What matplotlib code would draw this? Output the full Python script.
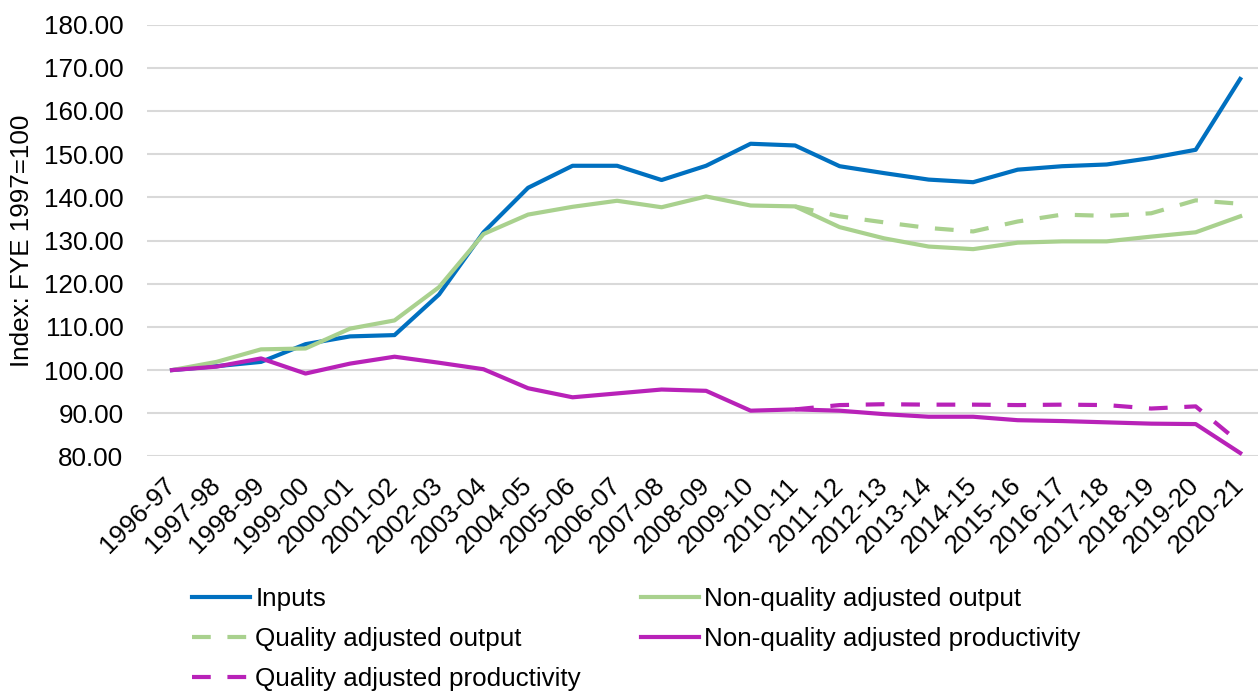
import numpy as np
import matplotlib
matplotlib.use('Agg')
import matplotlib.pyplot as plt

plt.rcParams['font.family'] = ['Liberation Sans', 'DejaVu Sans']
plt.rcParams['font.size'] = 18.75

years = ['1996-97', '1997-98', '1998-99', '1999-00', '2000-01', '2001-02',
         '2002-03', '2003-04', '2004-05', '2005-06', '2006-07', '2007-08',
         '2008-09', '2009-10', '2010-11', '2011-12', '2012-13', '2013-14',
         '2014-15', '2015-16', '2016-17', '2017-18', '2018-19', '2019-20',
         '2020-21']

inputs = [100.0, 100.9, 101.9, 106.0, 107.8, 108.1, 117.5, 131.9, 142.2,
          147.3, 147.3, 144.0, 147.3, 152.4, 152.0, 147.2, 145.6, 144.1,
          143.5, 146.4, 147.2, 147.6, 149.1, 151.0, 167.4]
nq_output = [100.0, 101.9, 104.8, 105.0, 109.6, 111.5, 119.2, 131.5, 136.0,
             137.8, 139.2, 137.7, 140.2, 138.1, 137.9, 133.1, 130.5, 128.6,
             128.0, 129.5, 129.8, 129.8, 130.9, 131.9, 135.6]
# quality adjusted series only split off from 2010-11
q_output = [np.nan] * 14 + [137.9, 135.6, 134.2, 132.9, 132.1, 134.4, 136.0,
                            135.7, 136.3, 139.3, 138.5]
nq_prod = [100.0, 100.8, 102.7, 99.2, 101.5, 103.1, 101.7, 100.2, 95.8,
           93.7, 94.6, 95.5, 95.2, 90.6, 90.9, 90.6, 89.8, 89.2, 89.2, 88.4,
           88.2, 87.9, 87.6, 87.5, 80.8]
q_prod = [np.nan] * 14 + [90.9, 91.9, 92.1, 92.0, 92.0, 91.9, 92.0, 91.9,
                          91.1, 91.6, 83.1]

blue = '#0070C0'
green = '#A9D18E'
purple = '#B822B8'

fig = plt.figure(figsize=(12.58, 6.93), dpi=100)
ax = fig.add_axes([0.1169, 0.3413, 0.8831, 0.6233])

x = np.arange(len(years))
lw = 3
dash = (4.5, 4)
l1, = ax.plot(x, inputs, color=blue, lw=lw, label='Inputs')
l2, = ax.plot(x, nq_output, color=green, lw=lw, label='Non-quality adjusted output')
l3, = ax.plot(x, q_output, color=green, lw=lw, dashes=dash, label='Quality adjusted output')
l4, = ax.plot(x, nq_prod, color=purple, lw=lw, label='Non-quality adjusted productivity')
l5, = ax.plot(x, q_prod, color=purple, lw=lw, dashes=dash, label='Quality adjusted productivity')

ax.set_xlim(-0.56, 24.4)
ax.set_ylim(80, 180)
ax.set_yticks(np.arange(80, 181, 10))
ax.set_yticklabels([f'{v:.2f}' for v in np.arange(80, 181, 10)])
ax.set_xticks(x)
ax.set_xticklabels(years, rotation=45, ha='right', va='center',
                   rotation_mode='anchor')
ax.tick_params(axis='both', length=0)
ax.tick_params(axis='y', pad=17)
ax.tick_params(axis='x', pad=18)
ax.grid(axis='y', color='#D9D9D9', lw=1.5)
ax.set_axisbelow(True)
for s in ax.spines.values():
    s.set_visible(False)

fig.text(22 / 1258, 0.653, 'Index: FYE 1997=100', rotation=90,
         ha='center', va='center')

# excel fills the legend row by row
fig.legend([l1, l3, l5, l2, l4],
           [l1.get_label(), l3.get_label(), l5.get_label(),
            l2.get_label(), l4.get_label()],
           ncol=2, loc='upper left', bbox_to_anchor=(0.1526, 0.153),
           frameon=False, borderpad=0, borderaxespad=0,
           handlelength=2.23, handletextpad=0.2, columnspacing=2.3,
           labelspacing=0.62)

fig.savefig('out.png', dpi=100)
